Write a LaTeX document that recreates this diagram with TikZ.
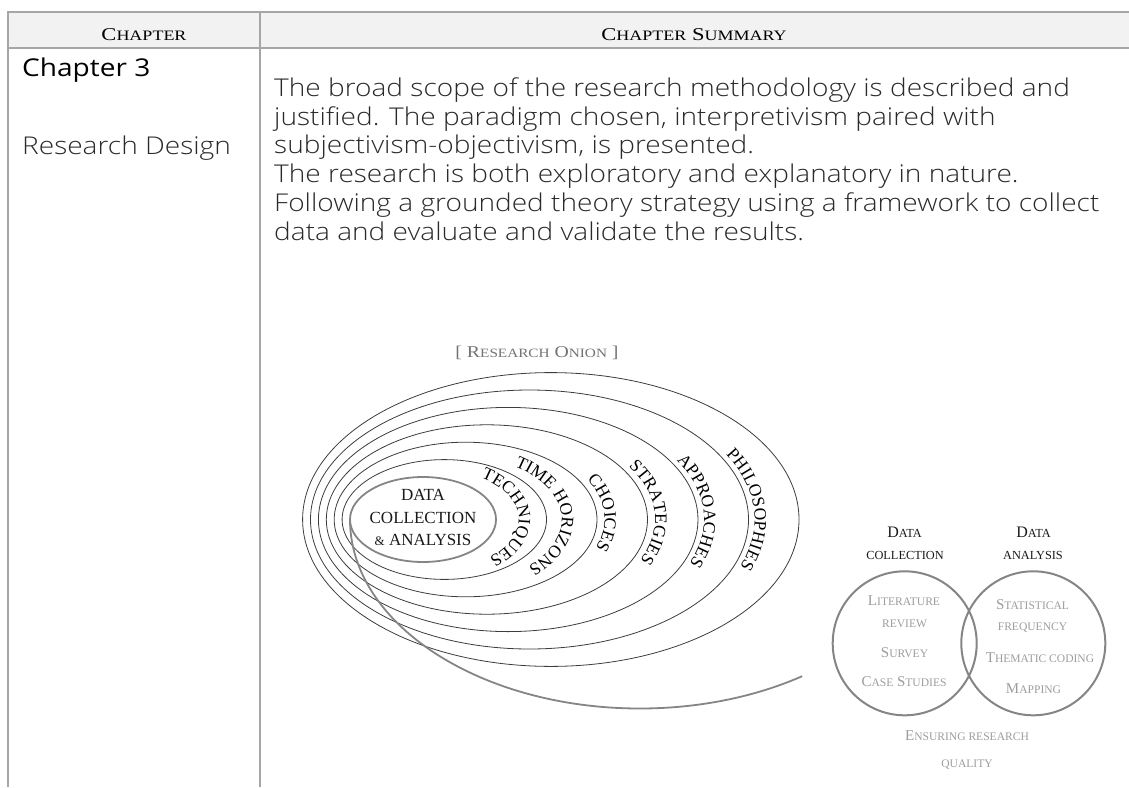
\documentclass[tikz,border=0pt]{standalone}
\usepackage{fontspec}
\IfFontExistsTF{Open Sans Light}
  {\newfontfamily\osans{Open Sans Light}}
  {\newfontfamily\osans{Open Sans}}
\newfontfamily\osreg{Open Sans}
\newfontfamily\serifcap{Liberation Serif}
\usetikzlibrary{decorations.text}
\definecolor{rulegray}{HTML}{A6A6A6}
\definecolor{headfill}{HTML}{F2F2F2}
\definecolor{ink}{HTML}{2A2A2A}
\definecolor{ringink}{HTML}{3C3C3C}
\definecolor{coregray}{HTML}{858585}
\definecolor{softgray}{HTML}{9C9C9C}
\newcommand\bodytext[1]{\scalebox{1.145}[1]{#1}}
\newcommand\widecaps[1]{\scalebox{1.25}[1]{#1}}
\newcommand\smallcap[1]{\scalebox{0.77}{#1}}
\newcommand\headcap[1]{\scalebox{0.8}{#1}}
\newcommand\onionfont{\serifcap\fontsize{17.5}{17.5}\selectfont}
\begin{document}
\begin{tikzpicture}[x=1pt,y=-1pt,
  tablerule/.style={draw=rulegray,line width=2pt},
  headlabel/.style={anchor=base,inner sep=0pt,font=\serifcap\fontsize{18}{20}\selectfont,text=black},
  body/.style={anchor=base west,inner sep=0pt,font=\osans\fontsize{24.5}{29}\selectfont,text=ink},
  ring/.style={draw=ringink,line width=0.8pt},
  coreline/.style={draw=coregray,line width=1.8pt},
  corelabel/.style={anchor=base,inner sep=0pt,font=\serifcap\fontsize{17}{18}\selectfont,text=black!90},
  ringlabel/.style={decorate,decoration={text along path,text align=center,text color=black,text={|\onionfont|#1}}},
  venn/.style={draw=coregray,line width=2pt},
  vennhead/.style={anchor=base,inner sep=0pt,font=\serifcap\fontsize{16}{18}\selectfont,text=black!90},
  vennitem/.style={anchor=base,inner sep=0pt,font=\serifcap\fontsize{15}{17}\selectfont,text=softgray}]
\useasboundingbox (0,0) rectangle (1129,787);

% table frame and header row
\fill[headfill] (8,12) rectangle (1129,48);
\draw[tablerule] (8,12) -- (1129,12);
\draw[tablerule] (8,48) -- (1129,48);
\draw[tablerule] (8,11) -- (8,787);
\draw[tablerule] (260,11) -- (260,787);
\node[headlabel] (hchap) at (144,40.5) {\widecaps{C\headcap{HAPTER}}};
\node[headlabel] (hsum) at (694,40.5) {\widecaps{C\headcap{HAPTER} S\headcap{UMMARY}}};

% first column
\node[body,font=\osreg\fontsize{24.5}{29}\selectfont,text=black] (chap) at (22,76) {\bodytext{Chapter 3}};
\node[body] (title) at (22,154) {\bodytext{Research Design}};

% summary text
\node[body] (s1) at (274,96.5) {\bodytext{The broad scope of the research methodology is described and}};
\node[body] (s2) at (274,125.2) {\bodytext{justified. The paradigm chosen, interpretivism paired with}};
\node[body] (s3) at (274,153.9) {\bodytext{subjectivism-objectivism, is presented.}};
\node[body] (s4) at (274,182.6) {\bodytext{The research is both exploratory and explanatory in nature.}};
\node[body] (s5) at (274,211.3) {\bodytext{Following a grounded theory strategy using a framework to collect}};
\node[body] (s6) at (274,240) {\bodytext{data and evaluate and validate the results.}};

% research onion
\node[anchor=base,inner sep=0pt,font=\serifcap\fontsize{16.5}{18}\selectfont,text=black!55] (onion) at (537,357)
  {\scalebox{1.2}[1]{[ R\smallcap{ESEARCH} O\smallcap{NION} ]}};
\foreach \cx/\rx/\ry in {444.3/102.2/59.9, 465.6/131.4/77.3, 486.9/160.6/94.7,
                         508.2/189.8/112.1, 529.5/219/129.5, 550.8/248.2/146.9}
  \draw[ring] (\cx,519.5) ellipse[x radius=\rx pt, y radius=\ry pt];
\draw[coreline] (423,519.5) ellipse[x radius=73pt, y radius=42.5pt];
\coordinate (spiralstart) at (350,519.5);
\draw[coreline] (spiralstart) arc[start angle=180, end angle=304, x radius=290pt, y radius=189pt] coordinate (spiralend);

\node[corelabel] (c1) at (423,500) {DATA};
\node[corelabel] (c2) at (423,523) {COLLECTION};
\node[corelabel] (c3) at (423,545.5) {{\fontsize{13}{14}\selectfont\&} ANALYSIS};

\path[ringlabel=TECHNIQUES] (432.6,519.5) ++(80:86.1pt and 50.3pt)
  arc[start angle=80, end angle=-74, x radius=86.1pt, y radius=50.3pt];
\path[ringlabel=TIME HORIZONS] (450.7,519.5) ++(80:111pt and 65.1pt)
  arc[start angle=80, end angle=-72, x radius=111pt, y radius=65.1pt];
\path[ringlabel=CHOICES] (468.8,519.5) ++(78:135.8pt and 79.9pt)
  arc[start angle=78, end angle=-72, x radius=135.8pt, y radius=79.9pt];
\path[ringlabel=STRATEGIES] (490.1,519.5) ++(78:165pt and 97.3pt)
  arc[start angle=78, end angle=-72, x radius=165pt, y radius=97.3pt];
\path[ringlabel=APPROACHES] (510.8,519.5) ++(78:193.3pt and 114.2pt)
  arc[start angle=78, end angle=-72, x radius=193.3pt, y radius=114.2pt];
\path[ringlabel=PHILOSOPHIES] (532.1,519.5) ++(78:222.5pt and 131.6pt)
  arc[start angle=78, end angle=-72, x radius=222.5pt, y radius=131.6pt];

% data collection / analysis circles
\draw[venn] (904.7,643.3) circle[radius=72pt];
\draw[venn] (1033.3,643.3) circle[radius=72pt];
\node[vennhead] (dc1) at (904.5,537) {D\smallcap{ATA}};
\node[vennhead] (dc2) at (905,559) {\smallcap{COLLECTION}};
\node[vennhead] (da1) at (1033.5,537) {D\smallcap{ATA}};
\node[vennhead] (da2) at (1033,559) {\smallcap{ANALYSIS}};
\node[vennitem] (l1) at (904,605) {L\smallcap{ITERATURE}};
\node[vennitem] (l2) at (904.5,627) {\smallcap{REVIEW}};
\node[vennitem] (l3) at (904.5,657.5) {S\smallcap{URVEY}};
\node[vennitem] (l4) at (904,686.5) {C\smallcap{ASE} S\smallcap{TUDIES}};
\node[vennitem] (r1) at (1032.5,609) {S\smallcap{TATISTICAL}};
\node[vennitem] (r2) at (1032.5,630) {\smallcap{FREQUENCY}};
\node[vennitem] (r3) at (1040,662) {T\smallcap{HEMATIC CODING}};
\node[vennitem] (r4) at (1033.5,693) {M\smallcap{APPING}};
\node[vennitem] (q1) at (967,740) {E\smallcap{NSURING RESEARCH}};
\node[vennitem] (q2) at (967,767) {\smallcap{QUALITY}};
\end{tikzpicture}
\end{document}
